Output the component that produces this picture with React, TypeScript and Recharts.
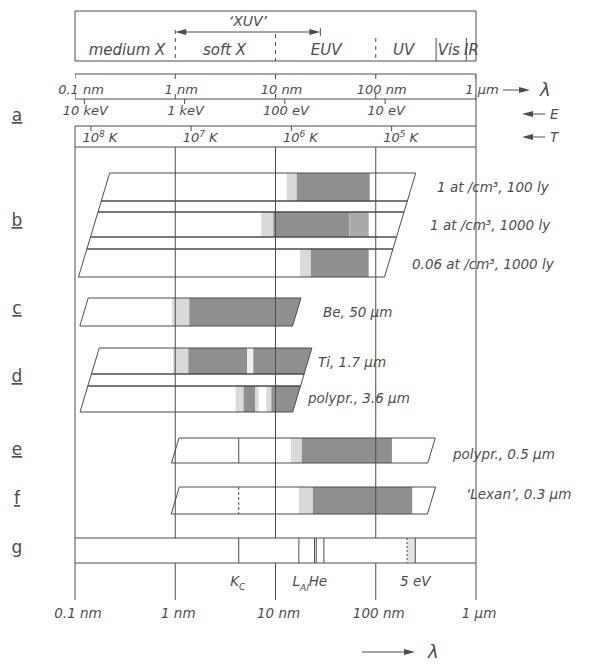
import React from "react";
import {
  ComposedChart,
  XAxis,
  YAxis,
  Scatter,
  ReferenceArea,
  ReferenceLine,
  ReferenceDot,
} from "recharts";

// wavelength decades (nm)
const decades = [0.1, 1, 10, 100, 1000];
const decadeLabels = ["0.1 nm", "1 nm", "10 nm", "100 nm", "1 µm"];
// photon energy marks, lambda = 1.24 um / E
const energyMarks = [0.124, 1.24, 12.4, 124];
const energyLabels = ["10 keV", "1 keV", "100 eV", "10 eV"];
// temperature marks, lambda = hc / kT
const tempMarks = [0.144, 1.44, 14.4, 144];
const tempExps = ["8", "7", "6", "5"];

// spectral regions of the top bar
const regionDividers = [1, 10, 100, 400, 800];
const regionDashed = [true, true, true, false, false];
const regionNames = ["medium X", "soft X", "EUV", "UV", "Vis", "IR"];
const regionCentres = [0.33, 3.1, 32, 190, 535, 900];
const xuvRange = [1, 28];

// transmission windows (nm)
const ism100 = [
  { from: 12.9, to: 16.3, tone: "light" },
  { from: 16.3, to: 87, tone: "dark" },
];
const ism1000 = [
  { from: 7.2, to: 9.5, tone: "light" },
  { from: 9.5, to: 54.6, tone: "dark" },
  { from: 54.6, to: 85, tone: "mid" },
];
const ismThin = [
  { from: 17.5, to: 22.5, tone: "light" },
  { from: 22.5, to: 85, tone: "dark" },
];
const beryllium = [
  { from: 0.93, to: 1.38, tone: "light" },
  { from: 1.38, to: 1000, tone: "dark" },
];
const titanium = [
  { from: 0.95, to: 1.35, tone: "light" },
  { from: 1.35, to: 5.2, tone: "dark" },
  { from: 5.2, to: 6.0, tone: "pale" },
  { from: 6.0, to: 1000, tone: "dark" },
];
const polyThick = [
  { from: 4.0, to: 4.8, tone: "light" },
  { from: 4.8, to: 6.3, tone: "dark" },
  { from: 6.3, to: 6.8, tone: "light" },
  { from: 8.1, to: 9.1, tone: "light" },
  { from: 9.1, to: 1000, tone: "dark" },
];
const polyThin = [
  { from: 14.2, to: 18.3, tone: "light" },
  { from: 18.3, to: 145, tone: "dark" },
];
const lexan = [
  { from: 17.1, to: 23.6, tone: "light" },
  { from: 23.6, to: 231, tone: "dark" },
];

// strip ends at mid-height (nm)
const stripLeft = [0.155, 0.123, 0.14, 1.0, 1.0];
const stripRight = [175, 16.3, 18.5, 360, 360];

// edges
const carbonK = 4.3;
const edgeLines = [4.3, 17.1, 24.5, 25.5, 30.4, 248];
const fiveEv = [205, 248];

// ---- layout (px, y axis runs 1:1 with the page) ----
const W = 594;
const H = 664;
const INK = "#4d4d4d";
const FONT = "'DejaVu Sans', sans-serif";
const SKEW = 0.3;
const TONE: Record<string, string> = {
  light: "#dadada",
  dark: "#8f8f8f",
  mid: "#a9a9a9",
  pale: "#efefef",
};

const groupY = [
  [173, 277],
  [298, 326],
  [348, 412],
  [438, 463],
  [487, 514],
];

type Row = {
  g: number;
  y: number[];
  bands?: { from: number; to: number; tone: string }[];
  label?: string;
  lx?: number;
  ly?: number;
};

const rows: Row[] = [
  { g: 0, y: [173, 201], bands: ism100, label: "1 at /cm³, 100 ly", lx: 437, ly: 192 },
  { g: 0, y: [201, 212] },
  { g: 0, y: [212, 237], bands: ism1000, label: "1 at /cm³, 1000 ly", lx: 430, ly: 230 },
  { g: 0, y: [237, 249] },
  { g: 0, y: [249, 277], bands: ismThin, label: "0.06 at /cm³, 1000 ly", lx: 412, ly: 269 },
  { g: 1, y: [298, 326], bands: beryllium, label: "Be, 50 µm", lx: 323, ly: 317 },
  { g: 2, y: [348, 374], bands: titanium, label: "Ti, 1.7 µm", lx: 318, ly: 367 },
  { g: 2, y: [374, 386] },
  { g: 2, y: [386, 412], bands: polyThick, label: "polypr., 3.6 µm", lx: 308, ly: 403 },
  { g: 3, y: [438, 463], bands: polyThin, label: "polypr., 0.5 µm", lx: 453, ly: 459 },
  { g: 4, y: [487, 514], bands: lexan, label: "‘Lexan’, 0.3 µm", lx: 466, ly: 499 },
];

const letters = ["a", "b", "c", "d", "e", "f", "g"];
const letterY = [121, 226, 314, 382, 455, 504, 553];

const mid = (g: number) => (groupY[g][0] + groupY[g][1]) / 2;

function slab(m: number, skewL: boolean, skewR: boolean, fill: string, stroke: string) {
  return (p: any) => {
    const { x, y, width, height } = p;
    if (x == null || isNaN(x)) return <g />;
    const t = y;
    const b = y + height;
    const ot = SKEW * (m - t);
    const ob = SKEW * (m - b);
    const pts = [
      [x + (skewL ? ot : 0), t],
      [x + width + (skewR ? ot : 0), t],
      [x + width + (skewR ? ob : 0), b],
      [x + (skewL ? ob : 0), b],
    ];
    return (
      <polygon
        points={pts.map((q) => q.join(",")).join(" ")}
        fill={fill}
        stroke={stroke}
        strokeWidth={stroke === "none" ? 0 : 1}
      />
    );
  };
}

function txt(content: React.ReactNode, dx = 0, anchor = "middle", size = 13) {
  return (p: any) => (
    <text
      x={p.cx + dx}
      y={p.cy}
      textAnchor={anchor}
      fontSize={size}
      fontStyle="italic"
      fontFamily={FONT}
      fill={INK}
    >
      {content}
    </text>
  );
}

const tickShape = (len: number) => (p: any) => (
  <line x1={p.cx} y1={p.cy} x2={p.cx} y2={p.cy + len} stroke={INK} strokeWidth={1} />
);

const xuvArrow = (p: any) => {
  const { x, y, width, height } = p;
  const cy = y + height / 2;
  const x2 = x + width;
  return (
    <g>
      <line x1={x + 8} y1={cy} x2={x2 - 8} y2={cy} stroke={INK} />
      <polygon points={`${x},${cy} ${x + 11},${cy - 3} ${x + 11},${cy + 3}`} fill={INK} />
      <polygon points={`${x2},${cy} ${x2 - 11},${cy - 3} ${x2 - 11},${cy + 3}`} fill={INK} />
      <line x1={x2} y1={cy - 4} x2={x2} y2={cy + 4} stroke={INK} />
    </g>
  );
};

const arrowRight = (x1: number, x2: number, y: number) => (
  <g>
    <line x1={x1} y1={y} x2={x2 - 8} y2={y} stroke={INK} />
    <polygon points={`${x2},${y} ${x2 - 11},${y - 3} ${x2 - 11},${y + 3}`} fill={INK} />
  </g>
);
const arrowLeft = (x1: number, x2: number, y: number) => (
  <g>
    <line x1={x1 + 8} y1={y} x2={x2} y2={y} stroke={INK} />
    <polygon points={`${x1},${y} ${x1 + 11},${y - 3} ${x1 + 11},${y + 3}`} fill={INK} />
  </g>
);

const seg = (x1: number, y1: number, x2: number, y2: number, key: string, dash?: string) => (
  <ReferenceLine
    key={key}
    segment={[{ x: x1, y: y1 }, { x: x2, y: y2 }]}
    stroke={INK}
    strokeWidth={1}
    strokeDasharray={dash}
    ifOverflow="visible"
  />
);

export default function App() {
  const sideText = {
    fontSize: 13.5,
    fontStyle: "italic" as const,
    fontFamily: FONT,
    fill: INK,
  };

  return (
    <div style={{ position: "absolute", left: 0, top: 0, background: "#fff" }}>
      <ComposedChart
        width={W}
        height={H}
        margin={{ top: 0, right: 118, bottom: 0, left: 75 }}
      >
        <XAxis
          dataKey="l"
          type="number"
          scale="log"
          domain={[0.1, 1000]}
          allowDataOverflow
          hide
        />
        <YAxis dataKey="y" type="number" domain={[0, H]} reversed allowDataOverflow hide />

        {/* top bar with spectral regions */}
        <ReferenceArea
          x1={0.1}
          x2={1000}
          y1={11}
          y2={61}
          ifOverflow="visible"
          shape={slab(0, false, false, "none", INK)}
        />
        {regionDividers.map((d, i) =>
          seg(d, i < 3 ? 30 + i * 4 : 38, d, 61, `rd${i}`, regionDashed[i] ? "4 4" : undefined)
        )}
        {regionNames.map((n, i) => (
          <ReferenceDot
            key={`rn${i}`}
            x={regionCentres[i]}
            y={55}
            r={1}
            ifOverflow="visible"
            shape={txt(n, 0, "middle", 15)}
          />
        ))}
        <ReferenceArea
          x1={xuvRange[0]}
          x2={xuvRange[1]}
          y1={29}
          y2={35}
          ifOverflow="visible"
          shape={xuvArrow}
        />
        <ReferenceDot x={5.3} y={26} r={1} ifOverflow="visible" shape={txt("‘XUV’", 0, "middle", 14)} />

        {/* a: wavelength / energy / temperature scales */}
        {seg(0.1, 74, 1000, 74, "a0")}
        {seg(0.1, 99, 1000, 99, "a1")}
        {seg(0.1, 126, 1000, 126, "a2")}
        {seg(0.1, 147, 1000, 147, "a3")}
        {seg(1000, 74, 1000, 147, "a4")}
        {seg(0.1, 126, 0.1, 147, "a5")}
        <Scatter
          data={decades.map((l) => ({ l, y: 74 }))}
          isAnimationActive={false}
          shape={tickShape(5)}
        />
        <Scatter
          data={decades.map((l) => ({ l, y: 99 }))}
          isAnimationActive={false}
          shape={tickShape(-5)}
        />
        <Scatter
          data={energyMarks.map((l) => ({ l, y: 99 }))}
          isAnimationActive={false}
          shape={tickShape(5)}
        />
        <Scatter
          data={tempMarks.map((l) => ({ l, y: 126 }))}
          isAnimationActive={false}
          shape={tickShape(5)}
        />
        {decades.map((d, i) => (
          <ReferenceDot
            key={`tl${i}`}
            x={d}
            y={94}
            r={1}
            ifOverflow="visible"
            shape={txt(decadeLabels[i], 6, "middle", 13)}
          />
        ))}
        {energyMarks.map((d, i) => (
          <ReferenceDot
            key={`el${i}`}
            x={d}
            y={115}
            r={1}
            ifOverflow="visible"
            shape={txt(energyLabels[i], 1, "middle", 13)}
          />
        ))}
        {tempMarks.map((d, i) => (
          <ReferenceDot
            key={`kl${i}`}
            x={d}
            y={142}
            r={1}
            ifOverflow="visible"
            shape={txt(
              <>
                10
                <tspan dy={-5} fontSize={9}>
                  {tempExps[i]}
                </tspan>
                <tspan dy={5}> K</tspan>
              </>,
              9,
              "middle",
              13
            )}
          />
        ))}

        {/* decade lines through the filter section */}
        {decades.map((d, i) => seg(d, 147, d, 538, `vg${i}`))}
        {decades.map((d, i) => seg(d, 563, d, 600, `vb${i}`))}

        {/* strips: white fill */}
        {rows.map((r, i) =>
          r.bands ? (
            <ReferenceArea
              key={`sf${i}`}
              x1={stripLeft[r.g]}
              x2={stripRight[r.g]}
              y1={r.y[0]}
              y2={r.y[1]}
              ifOverflow="visible"
              shape={slab(mid(r.g), true, true, "#fff", "none")}
            />
          ) : null
        )}
        {/* transmission bands */}
        {rows.map((r, i) =>
          (r.bands || []).map((b, j) => {
            const lo = Math.max(b.from, stripLeft[r.g]);
            const hi = Math.min(b.to, stripRight[r.g]);
            return (
              <ReferenceArea
                key={`bd${i}-${j}`}
                x1={lo}
                x2={hi}
                y1={r.y[0]}
                y2={r.y[1]}
                ifOverflow="visible"
                shape={slab(
                  mid(r.g),
                  b.from <= stripLeft[r.g],
                  b.to >= stripRight[r.g],
                  TONE[b.tone],
                  "none"
                )}
              />
            );
          })
        )}
        {seg(carbonK, groupY[3][0], carbonK, groupY[3][1], "kce")}
        {seg(carbonK, groupY[4][0], carbonK, groupY[4][1], "kcf", "3 2")}
        {/* strip outlines */}
        {rows.map((r, i) => (
          <ReferenceArea
            key={`so${i}`}
            x1={stripLeft[r.g]}
            x2={stripRight[r.g]}
            y1={r.y[0]}
            y2={r.y[1]}
            ifOverflow="visible"
            shape={slab(mid(r.g), true, true, "none", INK)}
          />
        ))}

        {/* g: absorption edges */}
        <ReferenceArea
          x1={0.1}
          x2={1000}
          y1={538}
          y2={563}
          ifOverflow="visible"
          shape={slab(0, false, false, "#fff", INK)}
        />
        <ReferenceArea
          x1={fiveEv[0]}
          x2={fiveEv[1]}
          y1={539}
          y2={562}
          ifOverflow="visible"
          shape={slab(0, false, false, "#e2e2e2", "none")}
        />
        {seg(fiveEv[0], 538, fiveEv[0], 563, "fe0", "2 2")}
        {edgeLines.map((e, i) => seg(e, 538, e, 563, `eg${i}`))}
        <ReferenceDot
          x={carbonK}
          y={586}
          r={1}
          ifOverflow="visible"
          shape={txt(
            <>
              K<tspan dy={4} fontSize={9}>C</tspan>
            </>,
            -1,
            "middle",
            13.5
          )}
        />
        <ReferenceDot
          x={17.1}
          y={586}
          r={1}
          ifOverflow="visible"
          shape={txt(
            <>
              L<tspan dy={5} fontSize={9}>Al</tspan>
              <tspan dy={-5}>He</tspan>
            </>,
            11,
            "middle",
            13.5
          )}
        />
        <ReferenceDot x={248} y={586} r={1} ifOverflow="visible" shape={txt("5 eV", 0, "middle", 13.5)} />
        {decades.map((d, i) => (
          <ReferenceDot
            key={`bl${i}`}
            x={d}
            y={618}
            r={1}
            ifOverflow="visible"
            shape={txt(decadeLabels[i], 3, "middle", 13.5)}
          />
        ))}

        {/* row labels */}
        {rows.map((r, i) =>
          r.label ? (
            <text key={`rl${i}`} x={r.lx} y={r.ly} {...sideText}>
              {r.label}
            </text>
          ) : null
        )}
        {letters.map((c, i) => (
          <text
            key={`lt${i}`}
            x={17}
            y={letterY[i]}
            textAnchor="middle"
            fontSize={17}
            fontFamily={FONT}
            fill={INK}
            textDecoration="underline"
          >
            {c}
          </text>
        ))}

        {/* axis arrows */}
        {arrowRight(503, 530, 90)}
        <text x={540} y={96} fontSize={18} fontStyle="italic" fontFamily={FONT} fill={INK}>
          λ
        </text>
        {arrowLeft(522, 545, 114)}
        <text x={550} y={119} {...sideText}>
          E
        </text>
        {arrowLeft(522, 545, 137)}
        <text x={550} y={142} {...sideText}>
          T
        </text>
        {arrowRight(362, 415, 652)}
        <text x={428} y={658} fontSize={18} fontStyle="italic" fontFamily={FONT} fill={INK}>
          λ
        </text>
      </ComposedChart>
    </div>
  );
}
